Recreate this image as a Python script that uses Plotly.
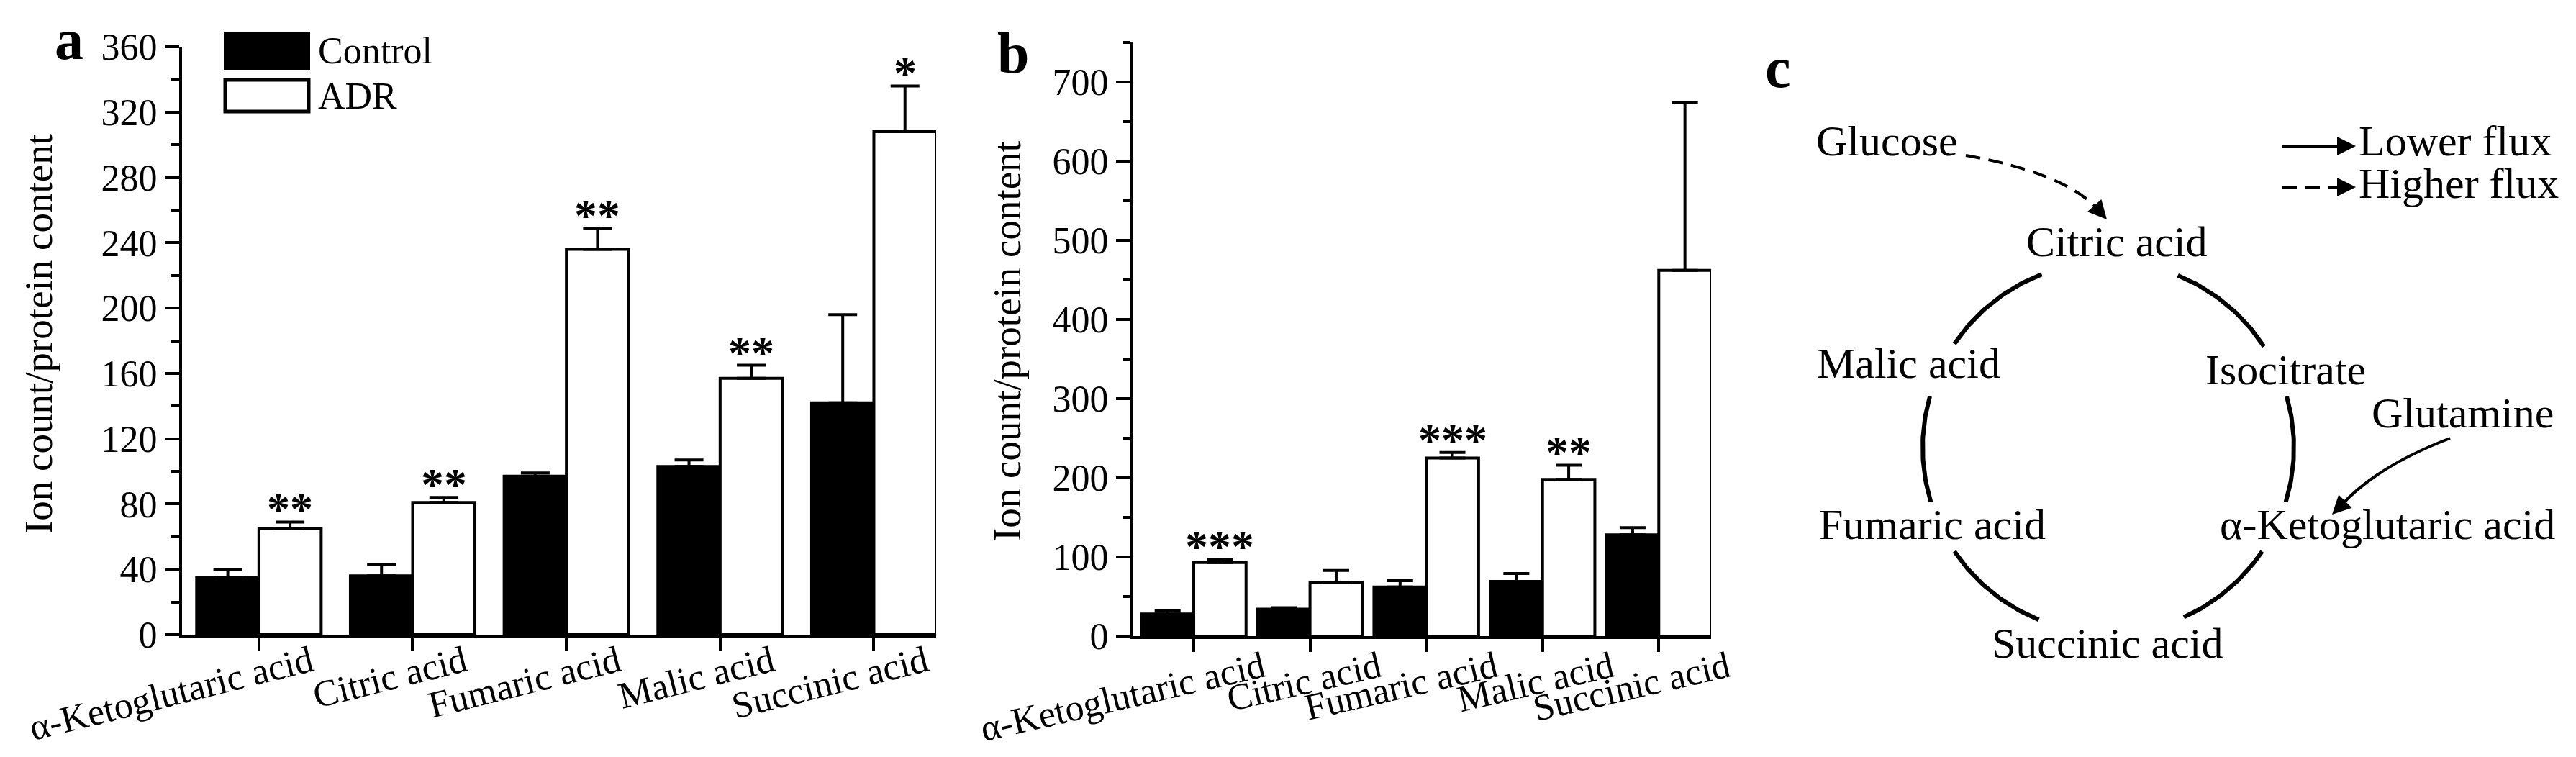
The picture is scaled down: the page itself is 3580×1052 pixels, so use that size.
import numpy as np
import plotly.graph_objects as go

W, H = 3580, 1052
FONT = "Liberation Serif"

acids = ["α-Ketoglutaric acid", "Citric acid", "Fumaric acid", "Malic acid", "Succinic acid"]

# panel a - cells
ctrl_a = [35, 36, 97, 103, 142]
ctrl_a_err = [5, 7, 2, 4, 54]
adr_a = [65, 81, 236, 157, 308]
adr_a_err = [4, 3, 13, 8, 28]
stars_a = ["**", "**", "**", "**", "*"]

# panel b
ctrl_b = [28, 34, 62, 69, 128]
ctrl_b_err = [4, 2, 8, 10, 9]
adr_b = [93, 68, 225, 198, 462]
adr_b_err = [4, 15, 7, 18, 212]
stars_b = ["***", "", "***", "**", ""]

# panel c - TCA cycle scheme
cycle = ["Citric acid", "Isocitrate", "α-Ketoglutaric acid", "Succinic acid", "Fumaric acid", "Malic acid"]
inputs = ["Glucose", "Glutamine"]
flux = ["Lower flux", "Higher flux"]


def px(x):
    return x / W


def py(y):
    return 1 - y / H


fig = go.Figure()

wa, wb = 0.405, 0.45   # bar width per series (category units)


def add_pair(ctrl, ctrl_err, adr, adr_err, w, xa, ya, cap):
    zero = [0] * len(ctrl)
    fig.add_trace(go.Bar(x=acids, y=ctrl, width=w, offset=-w, xaxis=xa, yaxis=ya,
                         marker=dict(color="black", line=dict(color="black", width=4)),
                         error_y=dict(type="data", array=ctrl_err, arrayminus=zero, symmetric=False,
                                      color="black", thickness=4, width=cap),
                         showlegend=False))
    fig.add_trace(go.Bar(x=acids, y=adr, width=w, offset=0, xaxis=xa, yaxis=ya,
                         marker=dict(color="white", line=dict(color="black", width=4)),
                         error_y=dict(type="data", array=adr_err, arrayminus=zero, symmetric=False,
                                      color="black", thickness=4, width=cap),
                         showlegend=False))


add_pair(ctrl_a, ctrl_a_err, adr_a, adr_a_err, wa, "x", "y", 20)
add_pair(ctrl_b, ctrl_b_err, adr_b, adr_b_err, wb, "x2", "y2", 18)

ann = []
star_font = dict(size=64, family=FONT)
for i, s in enumerate(stars_a):
    ann.append(dict(x=i + wa / 2, y=adr_a[i] + adr_a_err[i], xref="x", yref="y", text="<b>%s</b>" % s,
                    showarrow=False, xanchor="center", yanchor="bottom", yshift=-20, font=star_font))
for i, s in enumerate(stars_b):
    if s:
        ann.append(dict(x=i + wb / 2, y=adr_b[i] + adr_b_err[i], xref="x2", yref="y2",
                        text="<b>%s</b>" % s, showarrow=False, xanchor="center", yanchor="bottom",
                        yshift=-20, font=star_font))

# panel letters
for t, x, y in [("a", 88, 47), ("b", 1400, 66), ("c", 2463, 86)]:
    ann.append(dict(x=px(x), y=py(y), xref="paper", yref="paper", text="<b>%s</b>" % t,
                    showarrow=False, xanchor="center", yanchor="middle", font=dict(size=80)))

# y titles
for x, y in [(46, 456), (1391, 466)]:
    ann.append(dict(x=px(x), y=py(y), xref="paper", yref="paper", text="Ion count/protein content",
                    textangle=-90, showarrow=False, xanchor="center", yanchor="middle",
                    font=dict(size=55)))

# legend of panel a
shapes = [
    dict(type="rect", xref="paper", yref="paper", x0=px(305), x1=px(421), y0=py(87), y1=py(39),
         fillcolor="black", line=dict(color="black", width=4)),
    dict(type="rect", xref="paper", yref="paper", x0=px(305), x1=px(421), y0=py(147), y1=py(103),
         fillcolor="white", line=dict(color="black", width=5)),
]
for t, y in [("Control", 62), ("ADR", 125)]:
    ann.append(dict(x=px(432), y=py(y), xref="paper", yref="paper", text=t, xanchor="left",
                    yanchor="middle", showarrow=False, font=dict(size=52)))

# panel c in pixel units on hidden axes
cx, cy, r = 2922, 614, 258
arcs = [(111, 146), (33, 68), (-17, 16), (-66, -34), (214, 248), (164, 197)]
for a0, a1 in arcs:
    th = np.radians(np.linspace(a0, a1, 40))
    fig.add_trace(go.Scatter(x=cx + r * np.cos(th), y=cy - r * np.sin(th), mode="lines",
                             line=dict(color="black", width=6), xaxis="x3", yaxis="y3",
                             showlegend=False, hoverinfo="skip"))

c_font = dict(size=60)
node_pos = [(2934, 328), (3168, 506), (3310, 721), (2921, 886), (2677, 721), (2644, 497)]
for t, (x, y) in zip(cycle, node_pos):
    ann.append(dict(x=x, y=y, xref="x3", yref="y3", text=t, showarrow=False,
                    xanchor="center", yanchor="middle", font=c_font))
for t, (x, y) in zip(inputs, [(2614, 188), (3414, 566)]):
    ann.append(dict(x=x, y=y, xref="x3", yref="y3", text=t, showarrow=False,
                    xanchor="center", yanchor="middle", font=c_font))
for t, y in zip(flux, [188, 247]):
    ann.append(dict(x=3268, y=y, xref="x3", yref="y3", text=t, xanchor="left", yanchor="middle",
                    showarrow=False, font=c_font))

# curved input arrows and legend lines
shapes += [
    dict(type="path", xref="x3", yref="y3", path="M 2724,208 Q 2862,232 2910,285",
         line=dict(color="black", width=4, dash="20px,12px")),
    dict(type="path", xref="x3", yref="y3", path="M 3397,601 Q 3295,640 3245,695",
         line=dict(color="black", width=4)),
    dict(type="line", xref="x3", yref="y3", x0=3164, x1=3245, y0=195, y1=195,
         line=dict(color="black", width=4)),
    dict(type="line", xref="x3", yref="y3", x0=3164, x1=3245, y0=252, y1=252,
         line=dict(color="black", width=4, dash="20px,12px")),
]
for x, y, ax, ay in [(2920, 297, -17, -19), (3233, 707, 18, -18), (3266, 195, -28, 0), (3266, 252, -28, 0)]:
    ann.append(dict(x=x, y=y, xref="x3", yref="y3", ax=ax, ay=ay, text="", showarrow=True,
                    arrowhead=2, arrowsize=1.3, arrowwidth=4, arrowcolor="black", standoff=0))

axis_common = dict(showline=True, linecolor="black", linewidth=4, showgrid=False, zeroline=False,
                   ticks="outside", tickwidth=4, tickcolor="black", automargin=False)

fig.update_layout(
    width=W, height=H, margin=dict(l=0, r=0, t=0, b=0),
    paper_bgcolor="white", plot_bgcolor="white",
    font=dict(family=FONT, color="black"),
    barmode="overlay",
    xaxis=dict(domain=[px(245), px(1293)], range=[-0.5, 4 + wa], anchor="y", ticklen=18,
               tickangle=-14, ticklabelshift=72, ticklabelstandoff=-34, tickfont=dict(size=52),
               **axis_common),
    yaxis=dict(domain=[py(874), py(57)], range=[0, 360], dtick=40, anchor="x", ticklen=20,
               tickfont=dict(size=52),
               minor=dict(dtick=20, ticks="outside", ticklen=12, tickwidth=4, tickcolor="black"),
               **axis_common),
    xaxis2=dict(domain=[px(1567), px(2370)], range=[-0.52, 4 + wb], anchor="y2", ticklen=18,
                tickangle=-13, ticklabelshift=96, ticklabelstandoff=-28, tickfont=dict(size=52),
                **axis_common),
    yaxis2=dict(domain=[py(876), py(50)], range=[0, 751], dtick=100, anchor="x2", ticklen=20,
                tickfont=dict(size=52),
                minor=dict(dtick=50, ticks="outside", ticklen=11, tickwidth=4, tickcolor="black"),
                **axis_common),
    xaxis3=dict(domain=[px(2400), 1], range=[2400, 3580], visible=False, anchor="y3"),
    yaxis3=dict(domain=[0, 1], range=[1052, 0], visible=False, anchor="x3"),
    annotations=ann,
    shapes=shapes,
)

fig.write_html("out.html")
